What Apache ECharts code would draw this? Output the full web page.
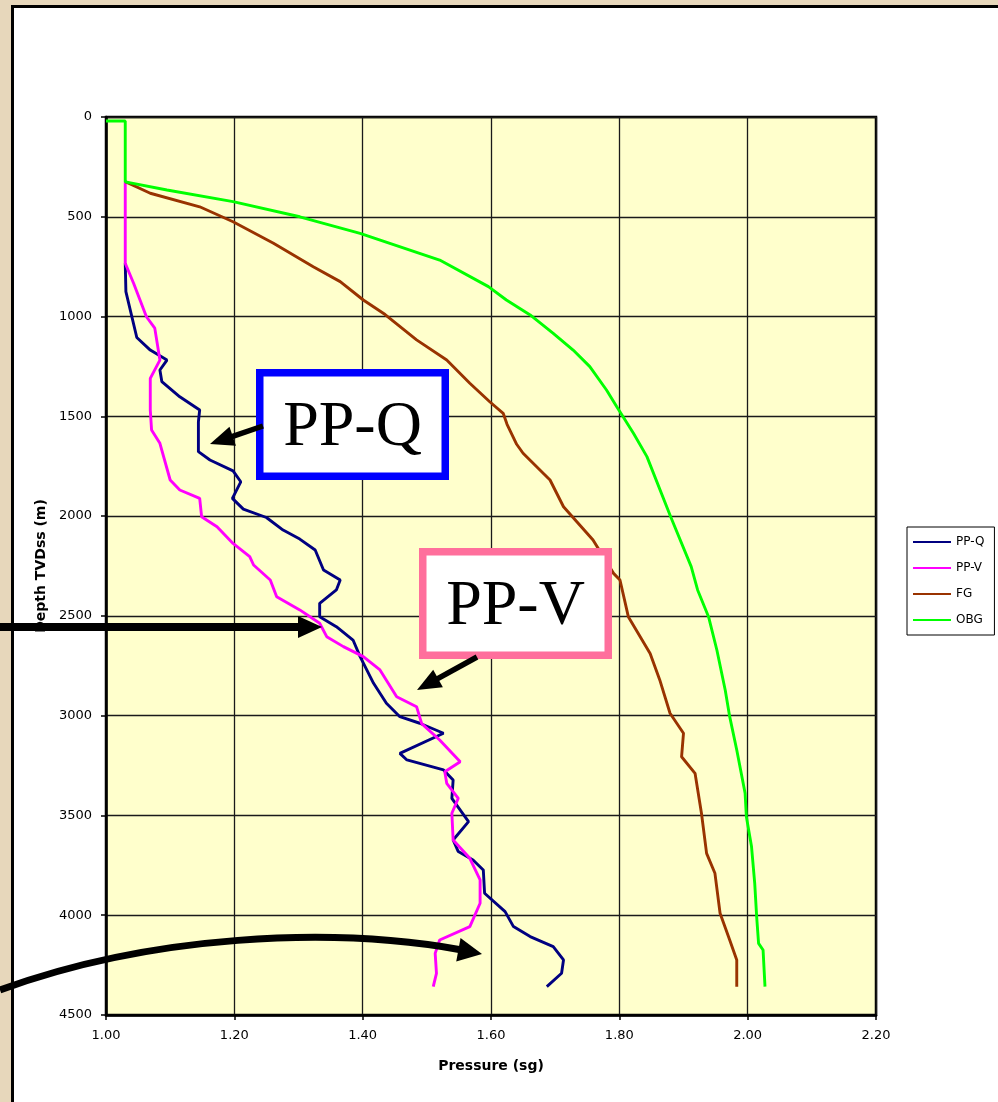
<!DOCTYPE html>
<html>
<head>
<meta charset="utf-8">
<script src="https://cdn.jsdelivr.net/npm/echarts@6/dist/echarts.min.js"></script>
<style>
  html, body { margin: 0; padding: 0; width: 998px; height: 1102px; overflow: hidden; background: #e7d7bb; }
  #panel { position: absolute; left: 11px; top: 5px; width: 1000px; height: 1110px; background: #ffffff; border: 3px solid #000; }
  #chart { position: absolute; left: 0; top: 0; width: 998px; height: 1102px; }
</style>
</head>
<body>
<div id="panel"></div>
<div id="chart"></div>
<script>
// ---- Data (pressure in sg, depth TVDss in m) ----
const xTicks = [1.00, 1.20, 1.40, 1.60, 1.80, 2.00, 2.20];
const yTicks = [0, 500, 1000, 1500, 2000, 2500, 3000, 3500, 4000, 4500];

const ppqPressure = [1.030, 1.031, 1.048, 1.069, 1.095, 1.084, 1.087, 1.115, 1.146, 1.144, 1.144, 1.162, 1.198, 1.210, 1.197, 1.214, 1.250, 1.276, 1.302, 1.326, 1.339, 1.365, 1.359, 1.333, 1.333, 1.359, 1.385, 1.396, 1.417, 1.437, 1.458, 1.489, 1.526, 1.458, 1.469, 1.526, 1.541, 1.539, 1.565, 1.541, 1.549, 1.572, 1.588, 1.590, 1.622, 1.635, 1.661, 1.697, 1.713, 1.710, 1.687];
const ppqDepth    = [733, 875, 1105, 1168, 1218, 1268, 1326, 1402, 1468, 1527, 1677, 1719, 1773, 1828, 1911, 1965, 2007, 2070, 2115, 2170, 2270, 2320, 2370, 2437, 2504, 2554, 2621, 2704, 2838, 2938, 3005, 3038, 3088, 3189, 3222, 3272, 3322, 3414, 3531, 3623, 3681, 3723, 3773, 3890, 3982, 4057, 4107, 4157, 4224, 4291, 4358];

const ppvPressure = [1.030, 1.030, 1.043, 1.053, 1.063, 1.076, 1.084, 1.069, 1.069, 1.071, 1.084, 1.100, 1.115, 1.146, 1.149, 1.173, 1.198, 1.224, 1.230, 1.256, 1.266, 1.302, 1.333, 1.344, 1.370, 1.401, 1.427, 1.453, 1.484, 1.492, 1.520, 1.552, 1.528, 1.531, 1.549, 1.539, 1.541, 1.567, 1.583, 1.583, 1.567, 1.520, 1.513, 1.515, 1.510];
const ppvDepth    = [324, 733, 833, 917, 1001, 1058, 1218, 1310, 1468, 1568, 1635, 1819, 1869, 1911, 2003, 2053, 2137, 2203, 2245, 2320, 2404, 2470, 2537, 2604, 2654, 2704, 2771, 2905, 2955, 3040, 3122, 3231, 3281, 3339, 3414, 3489, 3623, 3715, 3823, 3940, 4057, 4124, 4191, 4291, 4358];

const fgPressure = [1.030, 1.069, 1.146, 1.198, 1.261, 1.323, 1.365, 1.401, 1.435, 1.484, 1.531, 1.567, 1.598, 1.619, 1.625, 1.640, 1.650, 1.692, 1.713, 1.759, 1.791, 1.801, 1.814, 1.848, 1.863, 1.879, 1.900, 1.897, 1.918, 1.928, 1.936, 1.949, 1.957, 1.972, 1.983, 1.983];
const fgDepth    = [324, 382, 450, 525, 633, 750, 825, 917, 990, 1117, 1218, 1334, 1427, 1485, 1540, 1640, 1685, 1819, 1953, 2120, 2287, 2320, 2504, 2688, 2821, 2988, 3088, 3206, 3289, 3489, 3690, 3790, 3990, 4124, 4224, 4358];

const obgPressure = [1.000, 1.030, 1.030, 1.095, 1.198, 1.302, 1.396, 1.520, 1.596, 1.624, 1.661, 1.697, 1.728, 1.754, 1.780, 1.796, 1.822, 1.843, 1.880, 1.912, 1.922, 1.939, 1.952, 1.965, 1.972, 1.983, 1.996, 1.998, 2.006, 2.011, 2.014, 2.017, 2.024, 2.027];
const obgDepth    = [20, 20, 325, 366, 424, 500, 583, 717, 850, 917, 992, 1084, 1168, 1251, 1368, 1452, 1585, 1702, 2003, 2253, 2370, 2504, 2671, 2871, 3005, 3172, 3389, 3506, 3656, 3840, 4007, 4141, 4174, 4358];

const seriesNames  = ['PP-Q', 'PP-V', 'FG', 'OBG'];
const seriesColors = ['#000080', '#ff00ff', '#993300', '#00ff00'];

function zip(xs, ys) { return xs.map((x, i) => [x, ys[i]]); }
const seriesData = [
  zip(ppqPressure, ppqDepth),
  zip(ppvPressure, ppvDepth),
  zip(fgPressure, fgDepth),
  zip(obgPressure, obgDepth)
];

const chart = echarts.init(document.getElementById('chart'), null, { renderer: 'canvas' });

const tickFont = 'DejaVu Sans';

function head(tip, from, len, hw) {
  const dx = tip[0] - from[0], dy = tip[1] - from[1];
  const L = Math.hypot(dx, dy), ux = dx / L, uy = dy / L;
  const bx = tip[0] - ux * len, by = tip[1] - uy * len;
  return [[tip[0], tip[1]], [bx - uy * hw, by + ux * hw], [bx + uy * hw, by - ux * hw]];
}
function baseOf(tip, from, len) {
  const dx = tip[0] - from[0], dy = tip[1] - from[1];
  const L = Math.hypot(dx, dy);
  return [tip[0] - dx / L * len, tip[1] - dy / L * len];
}

const qFrom = [263, 426], qTip = [210, 444];
const vFrom = [477, 657], vTip = [417, 690];
const hFrom = [0, 627], hTip = [322, 627];
const cTip = [482, 954], cDir = [460, 950];

const option = {
  animation: false,
  backgroundColor: 'transparent',
  grid: {
    left: 106, top: 117, width: 770, height: 898,
    show: true, backgroundColor: '#ffffcc', borderColor: '#000', borderWidth: 2.5
  },
  legend: {
    orient: 'vertical', left: 907, top: 527,
    padding: [9, 10, 9, 5],
    itemWidth: 38, itemHeight: 14, itemGap: 14,
    borderColor: '#000', borderWidth: 1, backgroundColor: '#fff',
    data: seriesNames,
    itemStyle: { opacity: 0 },
    textStyle: { fontFamily: tickFont, fontSize: 12, color: '#000' }
  },
  xAxis: {
    type: 'value', min: xTicks[0], max: xTicks[xTicks.length - 1], interval: 0.2,
    name: 'Pressure (sg)', nameLocation: 'middle', nameGap: 44,
    nameTextStyle: { fontFamily: tickFont, fontWeight: 'bold', fontSize: 14, color: '#000' },
    axisLine: { show: true, onZero: false, lineStyle: { color: '#000', width: 2.5 } },
    axisTick: { show: true, inside: false, length: 5, lineStyle: { color: '#000', width: 1.5 } },
    axisLabel: { margin: 14, fontFamily: tickFont, fontSize: 13, color: '#000', formatter: v => v.toFixed(2) },
    splitLine: { show: true, lineStyle: { color: '#1a1a1a', width: 1.3 } }
  },
  yAxis: {
    type: 'value', inverse: true, min: yTicks[0], max: yTicks[yTicks.length - 1], interval: 500,
    name: 'Depth TVDss (m)', nameLocation: 'middle', nameGap: 47, nameRotate: 90,
    nameTextStyle: { fontFamily: tickFont, fontWeight: 'bold', fontSize: 14, color: '#000' },
    axisLine: { show: true, onZero: false, lineStyle: { color: '#000', width: 2.5 } },
    axisTick: { show: true, inside: false, length: 5, lineStyle: { color: '#000', width: 1.5 } },
    axisLabel: { margin: 14, fontFamily: tickFont, fontSize: 13, color: '#000', formatter: v => String(v) },
    splitLine: { show: true, lineStyle: { color: '#1a1a1a', width: 1.3 } }
  },
  series: seriesNames.map((n, i) => ({
    name: n, type: 'line', data: seriesData[i],
    symbol: 'none', smooth: false, clip: true,
    lineStyle: { color: seriesColors[i], width: 2.9 },
    itemStyle: { color: seriesColors[i] }
  })),
  graphic: [
    { type: 'rect', z: 100, shape: { x: 259.75, y: 372.75, width: 185.5, height: 103.5 },
      style: { fill: '#fff', stroke: '#0000ff', lineWidth: 7.5 } },
    { type: 'text', z: 101, x: 352.5, y: 428,
      style: { text: 'PP-Q', fill: '#000', font: '64px "Liberation Serif", "Times New Roman", serif', textAlign: 'center', textVerticalAlign: 'middle' } },
    { type: 'rect', z: 100, shape: { x: 422.75, y: 551.75, width: 185.5, height: 103.5 },
      style: { fill: '#fff', stroke: '#ff6f9c', lineWidth: 7.5 } },
    { type: 'text', z: 101, x: 515.5, y: 607,
      style: { text: 'PP-V', fill: '#000', font: '64px "Liberation Serif", "Times New Roman", serif', textAlign: 'center', textVerticalAlign: 'middle' } },
    { type: 'line', z: 102, shape: { x1: qFrom[0], y1: qFrom[1], x2: baseOf(qTip, qFrom, 20)[0], y2: baseOf(qTip, qFrom, 20)[1] },
      style: { stroke: '#000', lineWidth: 5.5 } },
    { type: 'polygon', z: 102, shape: { points: head(qTip, qFrom, 24, 10) }, style: { fill: '#000' } },
    { type: 'line', z: 102, shape: { x1: vFrom[0], y1: vFrom[1], x2: baseOf(vTip, vFrom, 20)[0], y2: baseOf(vTip, vFrom, 20)[1] },
      style: { stroke: '#000', lineWidth: 5.5 } },
    { type: 'polygon', z: 102, shape: { points: head(vTip, vFrom, 24, 10) }, style: { fill: '#000' } },
    { type: 'line', z: 102, shape: { x1: hFrom[0], y1: hFrom[1], x2: 300, y2: hTip[1] },
      style: { stroke: '#000', lineWidth: 8 } },
    { type: 'polygon', z: 102, shape: { points: head(hTip, hFrom, 24, 11) }, style: { fill: '#000' } },
    { type: 'bezierCurve', z: 102, shape: { x1: 0, y1: 990, cpx1: 150, cpy1: 935, cpx2: 330, cpy2: 926, x2: 462, y2: 950 },
      style: { stroke: '#000', lineWidth: 7, fill: null } },
    { type: 'polygon', z: 102, shape: { points: head(cTip, cDir, 24, 12) }, style: { fill: '#000' } }
  ]
};
chart.setOption(option);
</script>
</body>
</html>
